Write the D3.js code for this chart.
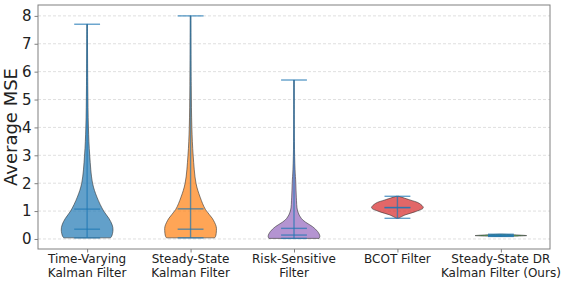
<!DOCTYPE html>
<html>
<head>
<meta charset="utf-8">
<script src="https://cdn.jsdelivr.net/npm/d3@7"></script>
<style>
  body { margin: 0; background: #fff; }
  svg { display: block; font-family: "DejaVu Sans", sans-serif; }
</style>
</head>
<body>
<div id="chart"></div>
<script>
const labels = [
  ['Time-Varying', 'Kalman Filter'],
  ['Steady-State', 'Kalman Filter'],
  ['Risk-Sensitive', 'Filter'],
  ['BCOT Filter'],
  ['Steady-State DR', 'Kalman Filter (Ours)']
];
const yTicks = [0, 1, 2, 3, 4, 5, 6, 7, 8];
const maxes = [7.7, 8.0, 5.7, 1.53, 0.17];
const mins = [0.04, 0.04, 0.02, 0.74, 0.09];
const means = [1.07, 1.08, 0.38, 1.13, 0.12];
const medians = [0.35, 0.35, 0.14, 1.12, 0.12];
// density profile per violin: [value, width relative to the widest point]
const profileTV = [[0.04, 0.9], [0.1, 0.95], [0.32, 1.0], [0.5, 0.97], [0.74, 0.84], [1.0, 0.64], [1.5, 0.38], [2.0, 0.21], [3.0, 0.1], [4.0, 0.05], [5.5, 0.025], [7.7, 0.01]];
const profileSS = [[0.04, 0.93], [0.1, 0.97], [0.3, 1.0], [0.45, 0.99], [0.74, 0.84], [1.05, 0.58], [1.5, 0.37], [2.0, 0.21], [3.0, 0.1], [4.0, 0.05], [5.5, 0.025], [8.0, 0.01]];
const profileRS = [[0.02, 0.97], [0.1, 1.0], [0.26, 0.92], [0.44, 0.72], [0.6, 0.45], [0.74, 0.28], [1.0, 0.14], [1.5, 0.09], [2.0, 0.07], [2.5, 0.04], [3.5, 0.015], [5.7, 0.005]];
const profileBC = [[0.74, 0.04], [0.86, 0.29], [0.98, 0.7], [1.12, 1.0], [1.28, 0.84], [1.4, 0.48], [1.53, 0.05]];
const profileDR = [[0.09, 0.1], [0.11, 0.8], [0.12, 1.0], [0.14, 0.7], [0.17, 0.05]];
const profiles = [profileTV, profileSS, profileRS, profileBC, profileDR];

const colors = ['#1f77b4', '#ff7f0e', '#9467bd', '#d62728', '#2ca02c'];
const lineColor = '#1f77b4';
const fullWidth = 566, fullHeight = 284;
const plot = { left: 38, right: 550, top: 5, bottom: 249 };
const violinWidth = 0.5;

const svg = d3.select('#chart')
  .append('svg')
  .attr('width', fullWidth)
  .attr('height', fullHeight);

const xScale = d3.scaleLinear()
  .domain([0.525, 5.475])
  .range([plot.left, plot.right]);

const yScale = d3.scaleLinear()
  .domain([-0.36, 8.39])
  .range([plot.bottom, plot.top]);

// grid
svg.append('g')
  .selectAll('line')
  .data(yTicks)
  .enter()
  .append('line')
  .attr('x1', plot.left)
  .attr('x2', plot.right)
  .attr('y1', d => yScale(d))
  .attr('y2', d => yScale(d))
  .attr('stroke', '#b0b0b0')
  .attr('stroke-opacity', 0.5)
  .attr('stroke-dasharray', '3,2')
  .attr('stroke-width', 0.8);

// violins
const halfW = (i, w) => xScale(i + 1 + w * violinWidth / 2) - xScale(i + 1);

profiles.forEach((prof, i) => {
  const cx = xScale(i + 1);
  const area = d3.area()
    .y(d => yScale(d[0]))
    .x0(d => cx - halfW(i, d[1]))
    .x1(d => cx + halfW(i, d[1]))
    .curve(d3.curveCatmullRom);
  svg.append('path')
    .datum(prof)
    .attr('d', area)
    .attr('fill', colors[i])
    .attr('fill-opacity', 0.7)
    .attr('stroke', '#333')
    .attr('stroke-opacity', 0.75)
    .attr('stroke-width', 0.8);
});

// whiskers, caps, mean & median lines
const stats = svg.append('g')
  .attr('stroke', lineColor)
  .attr('stroke-width', 1.4)
  .attr('stroke-opacity', 0.7);

labels.forEach((_, i) => {
  const cx = xScale(i + 1);
  const cap = halfW(i, 0.5);
  stats.append('line')
    .attr('x1', cx).attr('x2', cx)
    .attr('y1', yScale(mins[i])).attr('y2', yScale(maxes[i]));
  [mins[i], maxes[i], means[i], medians[i]].forEach(v => {
    stats.append('line')
      .attr('x1', cx - cap).attr('x2', cx + cap)
      .attr('y1', yScale(v)).attr('y2', yScale(v));
  });
});

// frame
svg.append('rect')
  .attr('x', plot.left)
  .attr('y', plot.top)
  .attr('width', plot.right - plot.left)
  .attr('height', plot.bottom - plot.top)
  .attr('fill', 'none')
  .attr('stroke', '#808080')
  .attr('stroke-width', 1);

// axes
const yAxis = d3.axisLeft(yScale)
  .tickValues(yTicks)
  .tickSize(3.5)
  .tickPadding(3);

const yG = svg.append('g')
  .attr('transform', `translate(${plot.left},0)`)
  .call(yAxis);
yG.select('.domain').remove();
yG.selectAll('line').attr('stroke', '#808080');
yG.selectAll('text').attr('font-size', 15).attr('fill', '#222').attr('font-family', 'DejaVu Sans');

const xAxis = d3.axisBottom(xScale)
  .tickValues([1, 2, 3, 4, 5])
  .tickSize(3.5)
  .tickFormat('');

const xG = svg.append('g')
  .attr('transform', `translate(0,${plot.bottom})`)
  .call(xAxis);
xG.select('.domain').remove();
xG.selectAll('line').attr('stroke', '#808080');

labels.forEach((lines, i) => {
  const t = svg.append('text')
    .attr('x', xScale(i + 1))
    .attr('y', 263)
    .attr('text-anchor', 'middle')
    .attr('font-size', 12)
    .attr('fill', '#222');
  lines.forEach((s, j) => {
    t.append('tspan')
      .attr('x', xScale(i + 1))
      .attr('dy', j === 0 ? 0 : 13.6)
      .text(s);
  });
});

svg.append('text')
  .attr('transform', `translate(17,${(plot.top + plot.bottom) / 2}) rotate(-90)`)
  .attr('text-anchor', 'middle')
  .attr('font-size', 18)
  .attr('fill', '#222')
  .text('Average MSE');
</script>
</body>
</html>
